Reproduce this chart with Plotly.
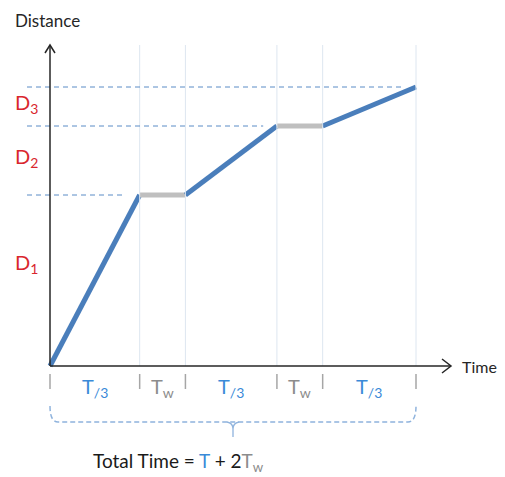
import plotly.graph_objects as go

# breakpoints of the journey (time units, distance units)
time_pts = [0, 0.98, 1.48, 2.48, 2.98, 4.0]
dist_pts = [0, 1.71, 1.71, 2.40, 2.40, 2.79]
seg_kind = ["move", "wait", "move", "wait", "move"]
seg_labels = ["T<sub>/3</sub>", "T<sub>w</sub>", "T<sub>/3</sub>", "T<sub>w</sub>", "T<sub>/3</sub>"]
d_labels = ["D<sub>1</sub>", "D<sub>2</sub>", "D<sub>3</sub>"]
d_label_y = [1.03, 2.09, 2.63]

# page body has an 8px margin, so the figure sits 8px in from the window corner
OFF = 8
W, H = 505 - OFF, 477 - OFF
X0, XS = 50, 91.5     # window pixel of x=0, px per unit
Y0, YS = 366, 100     # window pixel of y=0, px per unit

def px_x(p):
    return (p - X0) / XS

def px_y(p):
    return (Y0 - p) / YS

FONT = "Lato"
BLUE_LINE = "#4a7ebb"
GREY_LINE = "#bfbfbf"
BLUE_TXT = "#3a8ad8"
GREY_TXT = "#8c8c8c"
RED_TXT = "#d9262e"
AXIS = "#262626"

fig = go.Figure()
shapes = []

# light vertical grid lines at each breakpoint
for t in time_pts[1:]:
    shapes.append(dict(type="line", x0=t, x1=t, y0=0, y1=px_y(45),
                       line=dict(color="#dde6f0", width=1)))
# small grey ticks under the time axis
for t in time_pts:
    shapes.append(dict(type="line", x0=t, x1=t, y0=px_y(374), y1=px_y(389),
                       line=dict(color="#a6a6a6", width=1.5)))
# dashed distance guides
for i in [1, 3, 5]:
    shapes.append(dict(type="line", x0=px_x(27), x1=time_pts[i] - 0.15,
                       y0=dist_pts[i], y1=dist_pts[i],
                       line=dict(color="#5b8cc6", width=1, dash="5px,4px")))

# axes with open arrow heads
shapes.append(dict(type="line", x0=0, x1=0, y0=0, y1=px_y(45), line=dict(color=AXIS, width=1.5)))
shapes.append(dict(type="line", x0=0, x1=px_x(451), y0=0, y1=0, line=dict(color=AXIS, width=1.5)))
shapes.append(dict(type="path", path="M %f %f L %f %f L %f %f" % (
    px_x(45), px_y(53), 0, px_y(45), px_x(55), px_y(53)), line=dict(color=AXIS, width=1.5)))
shapes.append(dict(type="path", path="M %f %f L %f %f L %f %f" % (
    px_x(442), px_y(359), px_x(451), 0, px_x(442), px_y(373)), line=dict(color=AXIS, width=1.5)))

# dashed brace below the segments
xl, xr = time_pts[0], time_pts[-1]
yt, yb = px_y(406), px_y(422)
r = 8 / XS
shapes.append(dict(type="path",
                   path="M %f %f Q %f %f %f %f L %f %f Q %f %f %f %f" % (
                       xl, yt, xl, yb, xl + r, yb, xr - r, yb, xr, yb, xr, yt),
                   line=dict(color="#8fb3dd", width=1.5, dash="5px,3px")))
xm = (xl + xr) / 2
shapes.append(dict(type="path",
                   path="M %f %f Q %f %f %f %f Q %f %f %f %f M %f %f L %f %f" % (
                       xm - 6 / XS, yb, xm, px_y(423), xm, px_y(429),
                       xm, px_y(423), xm + 6 / XS, yb,
                       xm, px_y(429), xm, px_y(437)),
                   line=dict(color="#8fb3dd", width=1.3)))

# the distance-time line, waits in grey
for k in range(len(seg_kind)):
    fig.add_trace(go.Scatter(
        x=time_pts[k:k + 2], y=dist_pts[k:k + 2], mode="lines",
        line=dict(color=GREY_LINE if seg_kind[k] == "wait" else BLUE_LINE, width=5),
        hoverinfo="skip", showlegend=False))

ann = []
ann.append(dict(x=px_x(13), y=px_y(8), text="Distance", xanchor="left", yanchor="top",
                showarrow=False, font=dict(family=FONT, size=17, color=AXIS)))
ann.append(dict(x=px_x(460), y=0, text="Time", xanchor="left", yanchor="middle",
                showarrow=False, font=dict(family=FONT, size=16, color=AXIS)))
for lab, yv in zip(d_labels, d_label_y):
    ann.append(dict(x=px_x(26), y=yv, text=lab, xanchor="center", yanchor="middle",
                    showarrow=False, font=dict(family=FONT, size=20, color=RED_TXT)))
for k, lab in enumerate(seg_labels):
    ann.append(dict(x=(time_pts[k] + time_pts[k + 1]) / 2, y=px_y(387), text=lab,
                    xanchor="center", yanchor="middle", showarrow=False,
                    font=dict(family=FONT, size=20,
                              color=GREY_TXT if seg_kind[k] == "wait" else BLUE_TXT)))
ann.append(dict(x=px_x(178), y=px_y(462),
                text="Total Time = <span style='color:%s'>T</span> + 2<span style='color:%s'>T<sub>w</sub></span>" % (BLUE_TXT, GREY_TXT),
                xanchor="center", yanchor="middle", showarrow=False,
                font=dict(family=FONT, size=19, color="#1a1a1a")))

fig.update_layout(
    width=W, height=H,
    margin=dict(l=0, r=0, t=0, b=0),
    paper_bgcolor="white", plot_bgcolor="white",
    xaxis=dict(range=[px_x(OFF), px_x(OFF + W)], visible=False, fixedrange=True),
    yaxis=dict(range=[px_y(OFF + H), px_y(OFF)], visible=False, fixedrange=True),
    shapes=shapes, annotations=ann,
)
fig.write_html("out.html")
